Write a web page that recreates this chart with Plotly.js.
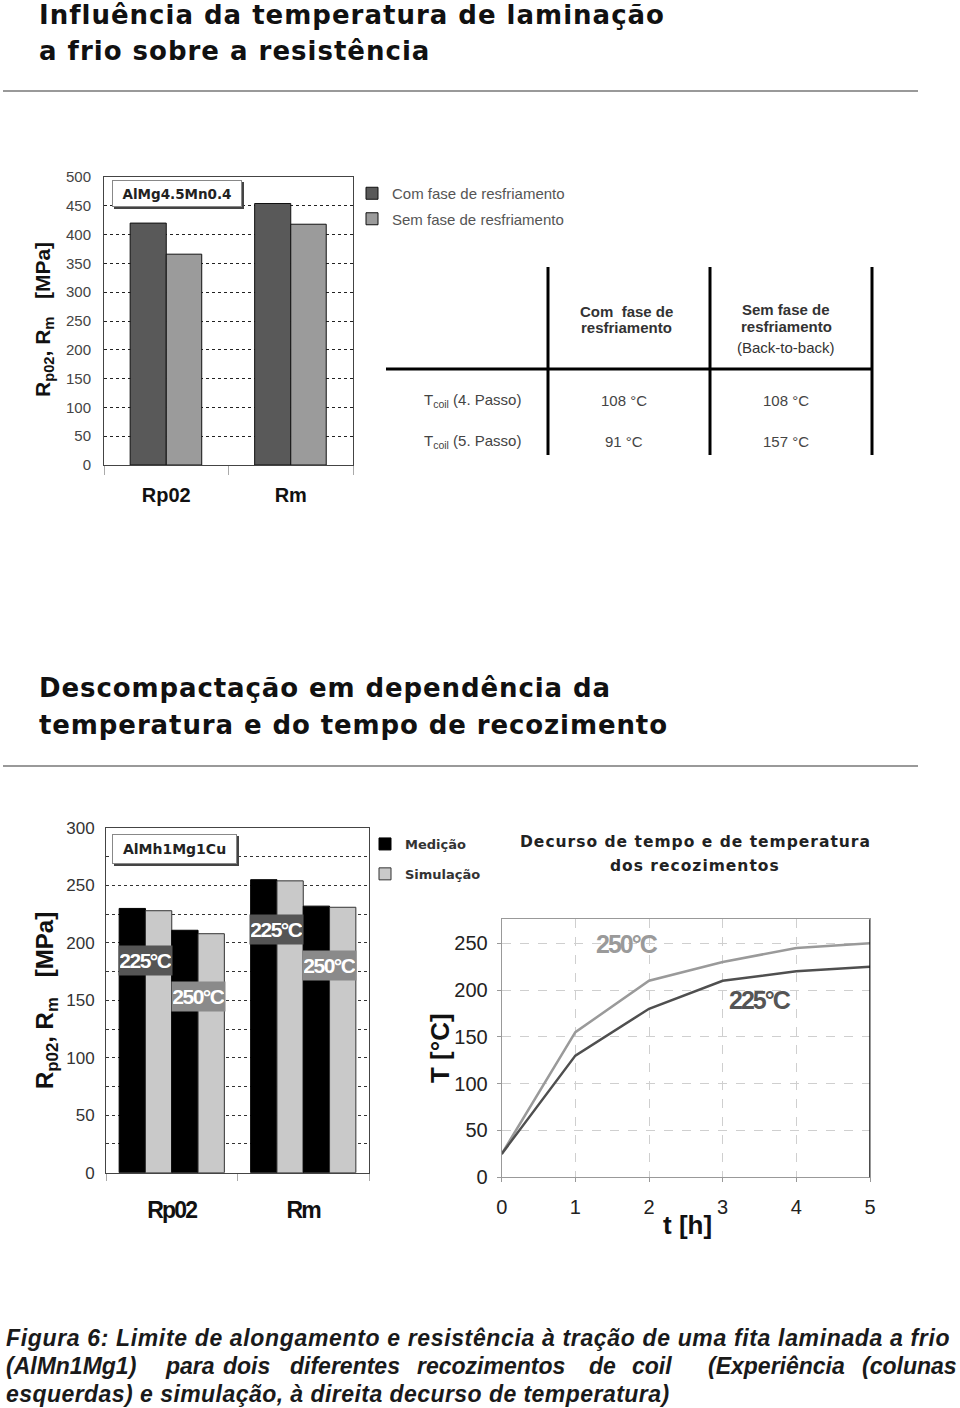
<!DOCTYPE html>
<html><head><meta charset="utf-8">
<script src="https://cdn.plot.ly/plotly-3.0.1.min.js"></script>
<style>body{margin:0;background:#fff}#chart{width:960px;height:1408px}</style>
</head><body><div id="chart"></div>
<script>
// ---- data ----
const cats1 = ["Rp02", "Rm"];
const comFase = [420, 454];
const semFase = [366, 418];
const legend1Names = ["Com fase de resfriamento", "Sem fase de resfriamento"];

const cats2 = ["Rp02", "Rm"];
const med225 = [230, 255];
const sim225 = [228, 254];
const med250 = [211, 232];
const sim250 = [208, 231];
const legend2Names = ["Medição", "Simulação"];
const barLabelText = ["225°C", "250°C"];
const barLabelY225 = [185, 212];
const barLabelY250 = [153, 180];

const tHours = [0, 1, 2, 3, 4, 5];
const temp250 = [25, 155, 210, 230, 245, 250];
const temp225 = [25, 130, 180, 210, 220, 225];
const lineLabels = ["250°C", "225°C"];
const lineLabelX = [1.7, 3.5];
const lineLabelY = [249, 189];

const tableHeadCom = ["Com  fase de", "resfriamento"];
const tableHeadSem = ["Sem fase de", "resfriamento", "(Back-to-back)"];
const tableRowLabels = ["T<sub>coil</sub> (4. Passo)", "T<sub>coil</sub> (5. Passo)"];
const tableCom = ["108 °C", "91 °C"];
const tableSem = ["108 °C", "157 °C"];

const header1 = ["Influência da temperatura de laminação", "a frio sobre a resistência"];
const header2 = ["Descompactação em dependência da", "temperatura e do tempo de recozimento"];
const chart3Title = ["Decurso de tempo e de temperatura", "dos recozimentos"];
const caption1 = "Figura 6: Limite de alongamento e resistência à tração de uma fita laminada a frio";
const caption2Words = ["(AlMn1Mg1)", "para", "dois", "diferentes", "recozimentos", "de", "coil", "(Experiência", "(colunas"];
const caption3 = "esquerdas) e simulação, à direita decurso de temperatura)";

// ---- helpers (page pixel -> paper) ----
const W = 960, H = 1408;
const px = x => x / W;
const py = y => 1 - y / H;
const ARIAL = "Liberation Sans, Arial, sans-serif";
const HEAVY = "DejaVu Sans, Verdana, sans-serif";
const sp = (t, s) => `<span style="letter-spacing:${s}px">${t}</span>`;

// ---- traces ----
const traces = [
  {type: "bar", x: cats1, y: comFase, name: legend1Names[0], xaxis: "x", yaxis: "y",
   width: 0.29, offset: -0.29, marker: {color: "#595959", line: {color: "#111", width: 1}},
   legend: "legend", legendgroup: "a"},
  {type: "bar", x: cats1, y: semFase, name: legend1Names[1], xaxis: "x", yaxis: "y",
   width: 0.285, offset: 0, marker: {color: "#9b9b9b", line: {color: "#111", width: 1}},
   legend: "legend", legendgroup: "b"},
  {type: "bar", x: cats2, y: med225, name: legend2Names[0], xaxis: "x2", yaxis: "y2",
   marker: {color: "#000", line: {color: "#000", width: 1}}, legend: "legend2", legendgroup: "m"},
  {type: "bar", x: cats2, y: sim225, name: legend2Names[1], xaxis: "x2", yaxis: "y2",
   marker: {color: "#c9c9c9", line: {color: "#333", width: 1}}, legend: "legend2", legendgroup: "s"},
  {type: "bar", x: cats2, y: med250, name: legend2Names[0], xaxis: "x2", yaxis: "y2",
   marker: {color: "#000", line: {color: "#000", width: 1}}, showlegend: false},
  {type: "bar", x: cats2, y: sim250, name: legend2Names[1], xaxis: "x2", yaxis: "y2",
   marker: {color: "#c9c9c9", line: {color: "#333", width: 1}}, showlegend: false},
  {type: "scatter", mode: "lines", x: tHours, y: temp250, xaxis: "x3", yaxis: "y3",
   line: {color: "#9a9a9a", width: 2.5}, showlegend: false, name: lineLabels[0]},
  {type: "scatter", mode: "lines", x: tHours, y: temp225, xaxis: "x3", yaxis: "y3",
   line: {color: "#4f4f4f", width: 2.5}, showlegend: false, name: lineLabels[1]}
];

// ---- annotations ----
const ann = [];
const A = o => ann.push(Object.assign({showarrow: false, xref: "paper", yref: "paper"}, o));

header1.forEach((t, i) => A({text: "<b>" + sp(t, 1) + "</b>", x: px(37), y: py(15 + 36 * i),
  xanchor: "left", yanchor: "middle", font: {family: HEAVY, size: 26, color: "#111"}}));
header2.forEach((t, i) => A({text: "<b>" + sp(t, 0.9) + "</b>", x: px(37), y: py(688 + 37 * i),
  xanchor: "left", yanchor: "middle", font: {family: HEAVY, size: 26, color: "#111"}}));

// chart 1 box label
A({text: "<b>AlMg4.5Mn0.4</b>", x: px(177), y: py(193.5), xanchor: "center", yanchor: "middle",
   width: 126, height: 23, bgcolor: "#fff", bordercolor: "#888", borderwidth: 1,
   font: {family: HEAVY, size: 13.5, color: "#222"}});
// chart 1 y title
A({text: "<b>R<sub>p02</sub>, R<sub>m</sub>\u00a0\u00a0\u00a0[MPa]</b>", x: px(44), y: py(320),
   textangle: -90, xanchor: "center", yanchor: "middle", font: {family: ARIAL, size: 21, color: "#111"}});

// table
const colX = [626, 786];
tableHeadCom.forEach((t, i) => A({text: "<b>" + t + "</b>", x: px(colX[0]), y: py(311 + 17 * i),
  xanchor: "center", yanchor: "middle", font: {family: ARIAL, size: 15, color: "#333"}}));
tableHeadSem.forEach((t, i) => A({text: i < 2 ? "<b>" + t + "</b>" : t, x: px(colX[1]), y: py([309, 326, 347][i]),
  xanchor: "center", yanchor: "middle", font: {family: ARIAL, size: 15, color: "#333"}}));
tableRowLabels.forEach((t, i) => {
  const y = [400, 441][i];
  A({text: t, x: px(472), y: py(y), xanchor: "center", yanchor: "middle", font: {family: ARIAL, size: 15, color: "#444"}});
  A({text: tableCom[i], x: px(colX[0] - 2), y: py(y), xanchor: "center", yanchor: "middle", font: {family: ARIAL, size: 15, color: "#444"}});
  A({text: tableSem[i], x: px(colX[1]), y: py(y), xanchor: "center", yanchor: "middle", font: {family: ARIAL, size: 15, color: "#444"}});
});

// chart 2 box label
A({text: "<b>AlMh1Mg1Cu</b>", x: px(174.5), y: py(849), xanchor: "center", yanchor: "middle",
   width: 121, height: 26, bgcolor: "#fff", bordercolor: "#888", borderwidth: 1,
   font: {family: HEAVY, size: 14, color: "#222"}});
// chart 2 y title
A({text: "<b>R<sub>p02</sub>, R<sub>m</sub>\u00a0\u00a0\u00a0[MPa]</b>", x: px(46), y: py(1001),
   textangle: -90, xanchor: "center", yanchor: "middle", font: {family: ARIAL, size: 24, color: "#111"}});
// bar temperature labels (chart 2)
[0, 1].forEach(c => {
  A({xref: "x2", yref: "y2", x: c - 0.2, y: barLabelY225[c], text: "<b>" + sp(barLabelText[0], -1.5) + "</b>",
     bgcolor: "#555", width: 51, height: 27, font: {family: ARIAL, size: 21, color: "#fff"}});
  A({xref: "x2", yref: "y2", x: c + 0.2, y: barLabelY250[c], text: "<b>" + sp(barLabelText[1], -1.5) + "</b>",
     bgcolor: "#8a8a8a", width: 51, height: 27, font: {family: ARIAL, size: 21, color: "#fff"}});
});

// chart 3 title and labels
chart3Title.forEach((t, i) => A({text: "<b>" + sp(t, 1) + "</b>", x: px(695), y: py(842 + 24 * i),
  xanchor: "center", yanchor: "middle", font: {family: HEAVY, size: 15.5, color: "#222"}}));
lineLabels.forEach((t, i) => A({xref: "x3", yref: "y3", x: lineLabelX[i], y: lineLabelY[i],
  text: "<b>" + sp(t, -2) + "</b>", xanchor: "center", yanchor: "middle",
  font: {family: ARIAL, size: 25, color: i === 0 ? "#9a9a9a" : "#555"}}));
A({text: "<b>t [h]</b>", x: px(687), y: py(1225), xanchor: "center", yanchor: "middle",
   font: {family: ARIAL, size: 26, color: "#111"}});
A({text: "<b>T [°C]</b>", x: px(440), y: py(1048), textangle: -90, xanchor: "center", yanchor: "middle",
   font: {family: ARIAL, size: 26, color: "#111"}});

// caption
const capFont = {family: ARIAL, size: 23, color: "#1a1a1a", style: "italic", weight: "bold"};
A({text: sp(caption1, 0.65), x: px(4), y: py(1338), xanchor: "left", yanchor: "middle", font: capFont});
const cap2X = [4, 163, 221, 288, 415, 587, 630, 706, 860];
caption2Words.forEach((w, i) => A({text: w, x: px(cap2X[i]), y: py(1366), xanchor: "left", yanchor: "middle", font: capFont}));
A({text: sp(caption3, 0.45), x: px(4), y: py(1394), xanchor: "left", yanchor: "middle", font: capFont});

// ---- shapes ----
const shapes = [
  {type: "line", xref: "paper", yref: "paper", x0: px(3), x1: px(918), y0: py(91), y1: py(91), line: {color: "#999", width: 2}},
  {type: "line", xref: "paper", yref: "paper", x0: px(3), x1: px(918), y0: py(766), y1: py(766), line: {color: "#999", width: 2}},
  // box shadows
  {type: "rect", xref: "paper", yref: "paper", x0: px(114), x1: px(244), y0: py(182), y1: py(209), fillcolor: "#444", line: {width: 0}, layer: "above"},
  {type: "rect", xref: "paper", yref: "paper", x0: px(114), x1: px(239), y0: py(836), y1: py(866), fillcolor: "#444", line: {width: 0}, layer: "above"},
  // table lines
  {type: "line", xref: "paper", yref: "paper", x0: px(386), x1: px(872), y0: py(369), y1: py(369), line: {color: "#000", width: 3}},
  ...[548, 710, 872].map(x => ({type: "line", xref: "paper", yref: "paper", x0: px(x), x1: px(x), y0: py(267), y1: py(455), line: {color: "#000", width: 3}})),
  // chart 3 right border
  {type: "line", xref: "x3", yref: "y3 domain", x0: 5, x1: 5, y0: 0, y1: 1, line: {color: "#111", width: 1.5}}
];

// ---- layout ----
const layout = {
  width: W, height: H, margin: {l: 0, r: 0, t: 0, b: 0},
  paper_bgcolor: "#fff", plot_bgcolor: "#fff",
  font: {family: ARIAL, color: "#333"},
  barmode: "group", bargap: 0.2, bargroupgap: 0,
  xaxis: {domain: [px(104), px(353)], anchor: "y", type: "category",
    showline: true, linecolor: "#444", mirror: true, ticks: "outside", tickson: "boundaries",
    ticklen: 9, tickcolor: "#aaa", ticklabelstandoff: 12, showgrid: false,
    tickfont: {family: ARIAL, size: 20, color: "#111", weight: "bold"}},
  yaxis: {domain: [py(465), py(177)], anchor: "x", range: [0, 500], dtick: 50,
    showline: true, linecolor: "#444", mirror: true, zeroline: false,
    showgrid: true, gridcolor: "#222", griddash: "dot", gridwidth: 1,
    ticks: "", ticklabelstandoff: 9, tickfont: {family: ARIAL, size: 15, color: "#444"}},
  xaxis2: {domain: [px(106), px(369)], anchor: "y2", type: "category",
    tickmode: "array", tickvals: cats2, ticktext: cats2.map(c => sp(c, -1.8)),
    showline: true, linecolor: "#444", mirror: true, ticks: "outside", tickson: "boundaries",
    ticklen: 7, tickcolor: "#aaa", ticklabelstandoff: 17, showgrid: false,
    tickfont: {family: ARIAL, size: 23, color: "#111", weight: "bold"}},
  yaxis2: {domain: [py(1172.7), py(828)], anchor: "x2", range: [0, 300], dtick: 50,
    showline: true, linecolor: "#444", mirror: true, zeroline: false,
    showgrid: true, gridcolor: "#333", griddash: "dot", gridwidth: 1,
    minor: {dtick: 25, showgrid: true, gridcolor: "#333", griddash: "dot", gridwidth: 1},
    ticks: "", ticklabelstandoff: 7, tickfont: {family: ARIAL, size: 17, color: "#333"}},
  xaxis3: {domain: [px(501.7), px(870)], anchor: "y3", range: [0, 5], dtick: 1,
    showline: true, linecolor: "#999", mirror: true, zeroline: false,
    showgrid: true, gridcolor: "#cfcfcf", griddash: "dash", gridwidth: 1,
    ticks: "outside", ticklen: 4, tickcolor: "#999", ticklabelstandoff: 8,
    tickfont: {family: ARIAL, size: 20, color: "#222"}},
  yaxis3: {domain: [py(1177.3), py(919.3)], anchor: "x3", range: [0, 275.6], dtick: 50,
    showline: true, linecolor: "#999", mirror: true, zeroline: false,
    showgrid: true, gridcolor: "#cfcfcf", griddash: "dash", gridwidth: 1,
    ticks: "outside", ticklen: 4, tickcolor: "#999", ticklabelstandoff: 5,
    tickfont: {family: ARIAL, size: 20, color: "#222"}},
  legend: {x: px(352), y: py(177), xanchor: "left", yanchor: "top", bgcolor: "rgba(0,0,0,0)",
    font: {family: ARIAL, size: 15, color: "#555"}, tracegroupgap: 3, traceorder: "grouped"},
  legend2: {x: px(365), y: py(829), xanchor: "left", yanchor: "top", bgcolor: "rgba(0,0,0,0)",
    font: {family: HEAVY, size: 13, color: "#333", weight: "bold"}, tracegroupgap: 10, traceorder: "grouped"},
  annotations: ann,
  shapes: shapes,
  showlegend: true
};

Plotly.newPlot("chart", traces, layout, {displayModeBar: false, staticPlot: true});
</script>
</body></html>
